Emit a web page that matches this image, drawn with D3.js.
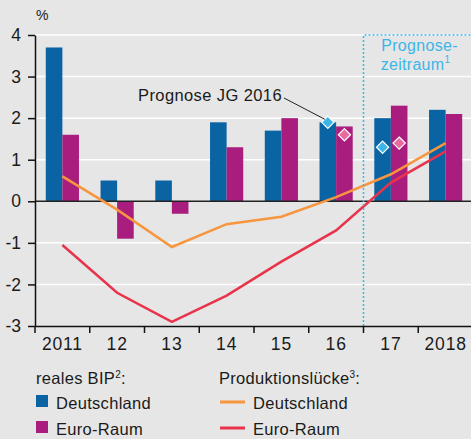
<!DOCTYPE html>
<html>
<head>
<meta charset="utf-8">
<script src="https://cdn.jsdelivr.net/npm/d3@7"></script>
<style>
  body { margin: 0; background: #e6e6e6; }
  svg { display: block; font-family: "Liberation Sans", Arial, sans-serif; }
</style>
</head>
<body>
<div id="chart"></div>
<script>
// Data
const years = ["2011", "12", "13", "14", "15", "16", "17", "2018"];
const bipDeutschland = [3.7, 0.5, 0.5, 1.9, 1.7, 1.9, 2.0, 2.2];
const bipEuroRaum = [1.6, -0.9, -0.3, 1.3, 2.0, 1.8, 2.3, 2.1];
const luckeDeutschland = [0.6, -0.2, -1.1, -0.55, -0.37, 0.1, 0.65, 1.4];
const luckeEuroRaum = [-1.05, -2.2, -2.9, -2.27, -1.45, -0.7, 0.45, 1.2];
// Prognose JG 2016 (for 2016 and 2017)
const prognoseYears = ["16", "17"];
const prognoseDeutschland = [1.9, 1.3];
const prognoseEuroRaum = [1.6, 1.4];
const yTicks = [-3, -2, -1, 0, 1, 2, 3, 4];

const colors = {
  blue: "#0a64a4",
  purple: "#a91d7e",
  orange: "#f7963e",
  red: "#e8334b",
  lightBlue: "#3db5e6",
  pink: "#ea6aa0"
};

const W = 471, H = 439;
const margin = { top: 35, right: -2, bottom: 113, left: 35 };

const svg = d3.select("#chart").append("svg")
    .attr("width", W)
    .attr("height", H);

svg.append("rect").attr("width", W).attr("height", H).attr("fill", "#e6e6e6");

const x = d3.scaleBand()
    .domain(years)
    .range([margin.left, W - margin.right])
    .paddingInner(0).paddingOuter(0);

const y = d3.scaleLinear()
    .domain([-3, 4])
    .range([H - margin.bottom, margin.top]);

const sub = d3.scaleBand()
    .domain(["de", "eu"])
    .range([0, x.bandwidth()])
    .paddingOuter(0.65).paddingInner(0);

// Gridlines
svg.append("g")
  .selectAll("line")
  .data(yTicks.filter(d => d !== 0 && d !== -3))
  .join("line")
    .attr("x1", margin.left)
    .attr("x2", W)
    .attr("y1", d => y(d))
    .attr("y2", d => y(d))
    .attr("stroke", "#fff")
    .attr("stroke-width", 1.5);

// Bars
const bars = svg.append("g");
bars.selectAll(".de")
  .data(years)
  .join("rect")
    .attr("x", d => x(d) + sub("de"))
    .attr("width", sub.bandwidth())
    .attr("y", (d, i) => y(Math.max(0, bipDeutschland[i])))
    .attr("height", (d, i) => Math.abs(y(bipDeutschland[i]) - y(0)))
    .attr("fill", colors.blue);
bars.selectAll(".eu")
  .data(years)
  .join("rect")
    .attr("x", d => x(d) + sub("eu"))
    .attr("width", sub.bandwidth())
    .attr("y", (d, i) => y(Math.max(0, bipEuroRaum[i])))
    .attr("height", (d, i) => Math.abs(y(bipEuroRaum[i]) - y(0)))
    .attr("fill", colors.purple);

// Zero line
svg.append("line")
    .attr("x1", margin.left).attr("x2", W)
    .attr("y1", y(0)).attr("y2", y(0))
    .attr("stroke", "#222").attr("stroke-width", 1.5);

// Lines
const line = d3.line()
    .x((d, i) => x(years[i]) + x.bandwidth() / 2)
    .y(d => y(d));

svg.append("path")
    .datum(luckeDeutschland)
    .attr("d", line)
    .attr("fill", "none")
    .attr("stroke", colors.orange)
    .attr("stroke-width", 2.5);

svg.append("path")
    .datum(luckeEuroRaum)
    .attr("d", line)
    .attr("fill", "none")
    .attr("stroke", colors.red)
    .attr("stroke-width", 2.5);

// Prognose-zeitraum frame
const px = x("17");
svg.append("path")
    .attr("d", `M${px},${y(-3)}V${y(4)}H${W}`)
    .attr("fill", "none")
    .attr("stroke", colors.lightBlue)
    .attr("stroke-width", 1.5)
    .attr("stroke-dasharray", "2,2");

const pt = svg.append("text")
    .attr("text-anchor", "middle")
    .attr("fill", colors.lightBlue)
    .style("font-size", "16px")
    .style("letter-spacing", "0.3px");
pt.append("tspan").attr("x", px + 56).attr("y", 51).text("Prognose-");
pt.append("tspan").attr("x", px + 52).attr("y", 70).text("zeitraum");
pt.append("tspan").attr("dy", -7).style("font-size", "10px").text("1");

// Prognose JG 2016 diamonds
const diamond = d3.symbol().type(d3.symbolDiamond2).size(95);
svg.append("g")
  .selectAll("path")
  .data(prognoseYears)
  .join("path")
    .attr("d", diamond)
    .attr("transform", (d, i) => `translate(${x(d) + sub("de") + sub.bandwidth() / 2},${y(prognoseDeutschland[i])})`)
    .attr("fill", colors.lightBlue)
    .attr("stroke", "#fff")
    .attr("stroke-width", 1.2);
svg.append("g")
  .selectAll("path")
  .data(prognoseYears)
  .join("path")
    .attr("d", diamond)
    .attr("transform", (d, i) => `translate(${x(d) + sub("eu") + sub.bandwidth() / 2},${y(prognoseEuroRaum[i])})`)
    .attr("fill", colors.pink)
    .attr("stroke", "#fff")
    .attr("stroke-width", 1.2);

// Annotation
const ax = x("16") + sub("de") + sub.bandwidth() / 2;
svg.append("line")
    .attr("x1", 284).attr("y1", 98)
    .attr("x2", ax - 3).attr("y2", y(prognoseDeutschland[0]) - 3)
    .attr("stroke", "#222").attr("stroke-width", 1);
svg.append("text")
    .attr("x", 282).attr("y", 101)
    .attr("text-anchor", "end")
    .attr("fill", "#1a1a1a")
    .style("font-size", "16.5px")
    .style("letter-spacing", "0.4px")
    .text("Prognose JG 2016");

// Y axis
const yAxis = svg.append("g")
    .attr("transform", `translate(${margin.left},0)`)
    .call(d3.axisLeft(y).tickValues(yTicks).tickSize(7).tickSizeOuter(0).tickFormat(d => String(d)));
yAxis.select(".domain").attr("stroke", "#111").attr("stroke-width", 1.5);
yAxis.selectAll(".tick line").attr("stroke", "#111").attr("stroke-width", 1.5);
yAxis.selectAll(".tick text")
    .attr("x", -14)
    .attr("fill", "#1a1a1a")
    .style("font-size", "17.5px")
    .style("font-family", "Liberation Sans, Arial, sans-serif");

svg.append("text")
    .attr("x", 36).attr("y", 20)
    .attr("fill", "#1a1a1a")
    .style("font-size", "14px")
    .text("%");

// X axis
const xAxis = svg.append("g")
    .attr("transform", `translate(0,${y(-3)})`)
    .call(d3.axisBottom(x).tickSize(0).tickPadding(12));
xAxis.select(".domain").attr("stroke", "#111").attr("stroke-width", 1.5);
xAxis.selectAll(".tick text")
    .attr("fill", "#1a1a1a")
    .style("font-size", "17.5px")
    .style("letter-spacing", "0.8px")
    .style("font-family", "Liberation Sans, Arial, sans-serif");
svg.append("g")
  .selectAll("line")
  .data(years)
  .join("line")
    .attr("x1", d => x(d)).attr("x2", d => x(d))
    .attr("y1", y(-3)).attr("y2", y(-3) + 7)
    .attr("stroke", "#111").attr("stroke-width", 1.5);

// Legend
const legend = svg.append("g")
    .style("font-size", "16.5px")
    .style("letter-spacing", "0.3px")
    .attr("fill", "#1a1a1a");
const t1 = legend.append("text").attr("x", 36).attr("y", 384);
t1.append("tspan").text("reales BIP");
t1.append("tspan").attr("dy", -6).style("font-size", "10px").text("2");
t1.append("tspan").attr("dy", 6).text(":");

const t2 = legend.append("text").attr("x", 219).attr("y", 384);
t2.append("tspan").text("Produktionslücke");
t2.append("tspan").attr("dy", -6).style("font-size", "10px").text("3");
t2.append("tspan").attr("dy", 6).text(":");

const barItems = [["Deutschland", colors.blue], ["Euro-Raum", colors.purple]];
barItems.forEach(([label, c], i) => {
  legend.append("rect")
      .attr("x", 36).attr("y", 395 + i * 26)
      .attr("width", 12).attr("height", 12)
      .attr("fill", c);
  legend.append("text")
      .attr("x", 56).attr("y", 409 + i * 26)
      .text(label);
});
const lineItems = [["Deutschland", colors.orange], ["Euro-Raum", colors.red]];
lineItems.forEach(([label, c], i) => {
  legend.append("line")
      .attr("x1", 220).attr("x2", 245)
      .attr("y1", 402 + i * 26).attr("y2", 402 + i * 26)
      .attr("stroke", c).attr("stroke-width", 3);
  legend.append("text")
      .attr("x", 253).attr("y", 409 + i * 26)
      .text(label);
});
</script>
</body>
</html>
